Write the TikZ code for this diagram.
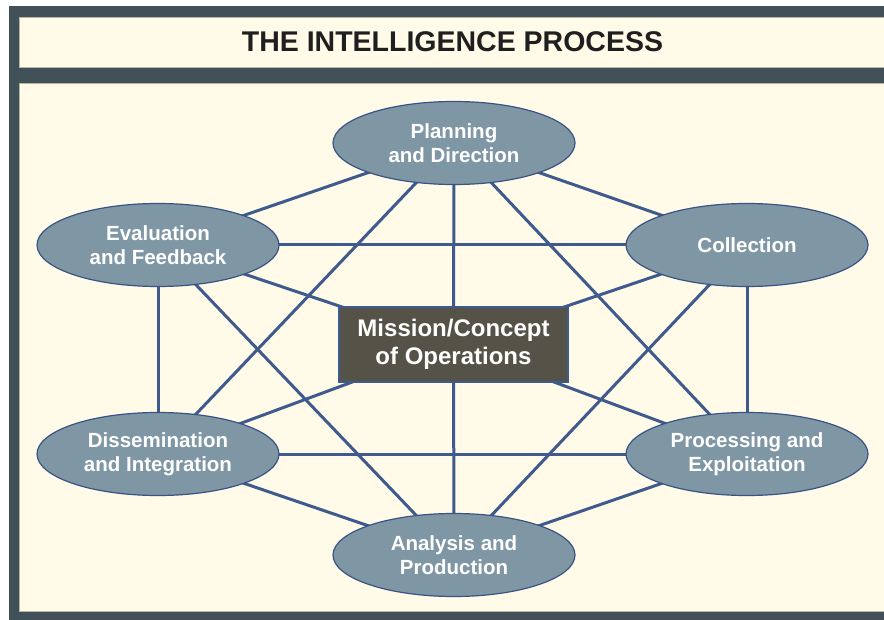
\documentclass[tikz,border=0pt]{standalone}
\usepackage{fontspec}
\setmainfont{Liberation Sans}
\usetikzlibrary{shapes.geometric}
\definecolor{frame}{HTML}{425059}
\definecolor{cream}{HTML}{FFFBE8}
\definecolor{bevel}{HTML}{B3B7A4}
\definecolor{edgeblue}{HTML}{3F5A8C}
\definecolor{ellfill}{HTML}{7F97A5}
\definecolor{ellline}{HTML}{3A5385}
\definecolor{boxfill}{HTML}{555247}
\pgfdeclarelayer{bg}
\pgfdeclarelayer{edges}
\pgfsetlayers{bg,edges,main}
\tikzset{
  stage/.style={ellipse, draw=ellline, line width=1.2pt, fill=ellfill,
    minimum width=242pt, minimum height=83pt, inner sep=0pt, align=center,
    text=white, font=\fontsize{20.5}{24}\selectfont\bfseries},
  centerbox/.style={rectangle, draw=edgeblue, line width=1.5pt, fill=boxfill,
    minimum width=229pt, minimum height=75pt, inner sep=0pt, align=center,
    text=white, font=\fontsize{24}{28}\selectfont\bfseries},
  link/.style={draw=edgeblue, line width=3pt},
  titletext/.style={inner sep=0pt, text=black!88, font=\fontsize{28.5}{32}\selectfont\bfseries}
}
\begin{document}
\begin{tikzpicture}[x=1pt,y=-1pt]
\useasboundingbox (0,0) rectangle (884,620);
\begin{pgfonlayer}{bg}
  \fill[white] (0,0) rectangle (884,620);
  \fill[frame] (9,6) rectangle (884,620);
  \fill[cream, draw=bevel, line width=1.2pt] (19.6,17.6) rectangle (890,67.4);
  \fill[cream, draw=bevel, line width=1.2pt] (19.6,83.6) rectangle (890,611.4);
\end{pgfonlayer}
\node[titletext] (title) at (452.5,42) {THE INTELLIGENCE PROCESS};

\node[stage] (plan) at (454,143) {Planning\\and Direction};
\node[stage] (coll) at (747,245) {Collection};
\node[stage] (eval) at (158,245) {Evaluation\\and Feedback};
\node[stage] (diss) at (158,454) {Dissemination\\and Integration};
\node[stage] (proc) at (747,454) {Processing and\\Exploitation};
\node[stage] (anal) at (454,555) {Analysis and\\Production};
\node[centerbox] (mission) at (453.5,344.5) {Mission/Concept\\of Operations};

\begin{pgfonlayer}{edges}
  \foreach \a/\b in {plan/coll, plan/eval, plan/diss, plan/proc,
                     coll/eval, coll/proc, coll/anal,
                     eval/diss, eval/anal,
                     diss/proc, diss/anal,
                     proc/anal,
                     mission/plan, mission/coll, mission/eval,
                     mission/diss, mission/proc, mission/anal}
    \draw[link] (\a.center) -- (\b.center);
\end{pgfonlayer}
\end{tikzpicture}
\end{document}
